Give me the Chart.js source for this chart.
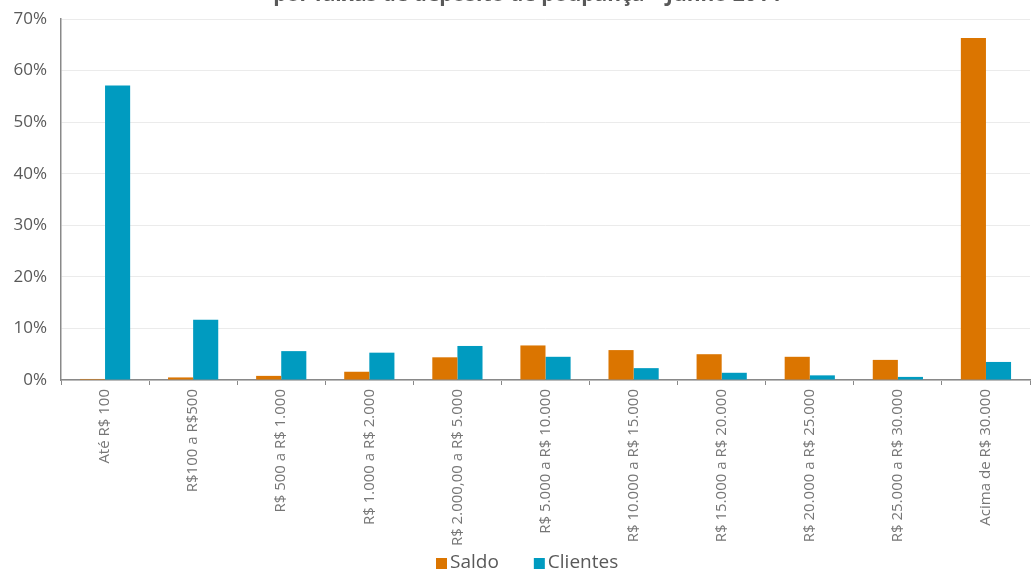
<!DOCTYPE html>
<html>
<head>
<meta charset="utf-8">
<script src="https://cdn.jsdelivr.net/npm/chart.js@4"></script>
<style>
  html, body { margin: 0; padding: 0; background: #fff; }
  #wrap { position: relative; width: 1031px; height: 570px; }
</style>
</head>
<body>
<div id="wrap"><canvas id="faixasChart"></canvas></div>
<script>
var categorias = ["Até R$ 100", "R$100 a R$500", "R$ 500 a R$ 1.000", "R$ 1.000 a R$ 2.000",
  "R$ 2.000,00 a R$ 5.000", "R$ 5.000 a R$ 10.000", "R$ 10.000 a R$ 15.000", "R$ 15.000 a R$ 20.000",
  "R$ 20.000 a R$ 25.000", "R$ 25.000 a R$ 30.000", "Acima de R$ 30.000"]
var saldo = [0.2, 0.5, 0.8, 1.6, 4.4, 6.7, 5.8, 5.0, 4.5, 3.9, 66.3]
var clientes = [57.1, 11.7, 5.6, 5.3, 6.6, 4.5, 2.3, 1.4, 0.9, 0.6, 3.5]
var titulo = "por faixas de depósito de poupança – Junho 2014"

// titulo cortado no topo + legenda desenhada a mao
var extrasPlugin = {
  id: 'extras',
  afterDraw: function (chart) {
    var ctx = chart.ctx
    ctx.save()
    ctx.font = 'bold 21px "Open Sans"'
    ctx.fillStyle = '#595959'
    ctx.textAlign = 'center'
    ctx.textBaseline = 'alphabetic'
    ctx.fillText(titulo, 527, 1)

    ctx.font = '19px "Open Sans"'
    ctx.textAlign = 'left'
    ctx.textBaseline = 'middle'
    var x = 436, y = 563
    chart.data.datasets.forEach(function (ds) {
      ctx.fillStyle = ds.backgroundColor
      ctx.fillRect(x, y - 5, 11, 11)
      ctx.fillStyle = '#595959'
      ctx.fillText(ds.label, x + 14, y)
      x += 14 + ctx.measureText(ds.label).width + 35
    })
    ctx.restore()
  }
}

new Chart(document.getElementById('faixasChart'), {
  type: 'bar',
  data: {
    labels: categorias,
    datasets: [{
      label: 'Saldo',
      backgroundColor: '#DB7500',
      data: saldo
    }, {
      label: 'Clientes',
      backgroundColor: '#009BC0',
      data: clientes
    }]
  },
  options: {
    responsive: true,
    maintainAspectRatio: false,
    animation: false,
    layout: { padding: { top: 19, right: 1, left: 0, bottom: 0 } },
    datasets: { bar: { categoryPercentage: 0.57, barPercentage: 1.0 } },
    scales: {
      x: {
        grid: { drawOnChartArea: false, drawTicks: true, tickLength: 5, color: '#898989' },
        border: { color: '#898989', width: 1.5 },
        ticks: {
          minRotation: 90, maxRotation: 90, autoSkip: false, padding: 4,
          color: '#767676', font: { family: '"Open Sans"', size: 15 }
        },
        afterFit: function (scale) { scale.height = 190 }
      },
      y: {
        min: 0, max: 70,
        grid: { color: '#ebebeb', drawTicks: false },
        border: { color: '#898989', width: 1.5 },
        ticks: {
          stepSize: 10, padding: 14,
          color: '#595959', font: { family: '"Open Sans"', size: 17 },
          callback: function (v) { return v + '%' }
        },
        afterFit: function (scale) {
          scale.width = 61
          scale.paddingTop = 0
          scale.paddingBottom = 0
        }
      }
    },
    plugins: {
      title: { display: false },
      legend: { display: false },
      tooltip: { enabled: false }
    }
  },
  plugins: [extrasPlugin]
});
</script>
</body>
</html>
